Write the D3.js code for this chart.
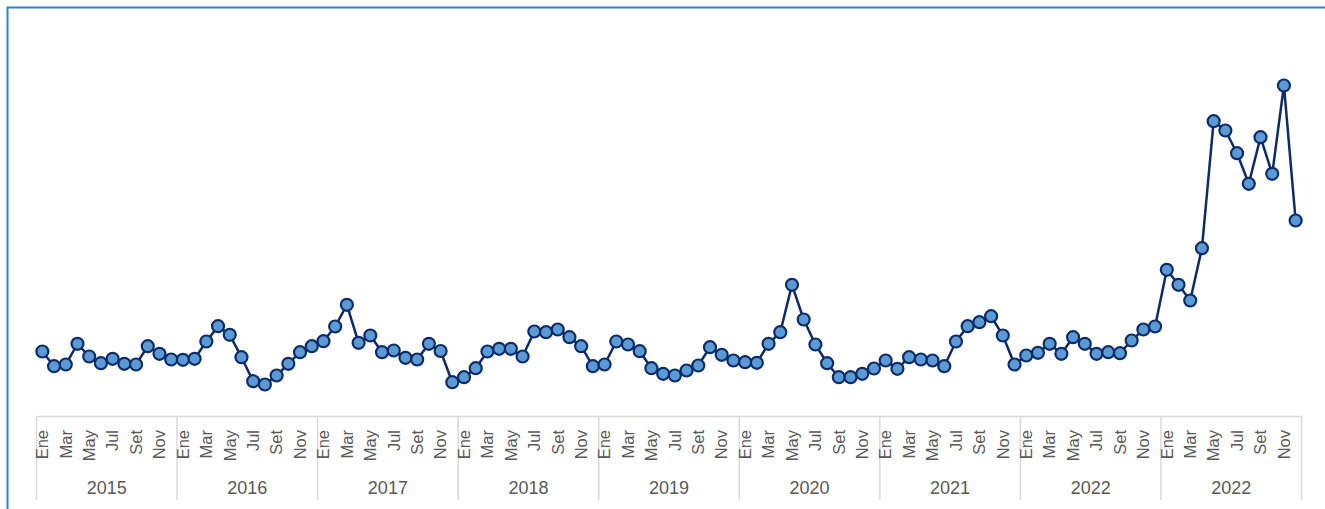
<!DOCTYPE html>
<html>
<head>
<meta charset="utf-8">
<script src="https://cdn.jsdelivr.net/npm/d3@7"></script>
<style>
  html, body { margin: 0; padding: 0; background: #fff; overflow: hidden; }
  text { font-family: "Liberation Sans", Arial, sans-serif; fill: #595959; }
</style>
</head>
<body>
<div id="chart"></div>
<script>
// Year groups (the reference labels the last two groups both as 2022)
let years = ["2015", "2016", "2017", "2018", "2019", "2020", "2021", "2022", "2022"];
let months = ["Ene", "Feb", "Mar", "Abr", "May", "Jun", "Jul", "Ago", "Set", "Oct", "Nov", "Dic"];

// Monthly values, one array per year group (no y axis shown)
let v2015 = [65, 50.3, 52, 72.7, 60, 53.3, 57.7, 52.7, 52, 70.3, 62.7, 57];
let v2016 = [56.7, 57.7, 75, 90.3, 81.7, 59.3, 35.3, 32, 41, 52.7, 64.3, 70.3];
let v2017 = [75.3, 90, 111.7, 73.7, 81, 64.3, 66, 58.7, 57, 72.7, 65.5, 34.3];
let v2018 = [39.3, 48.3, 65, 67.7, 67.7, 60, 85, 84.3, 87, 79.3, 70.3, 50.3];
let v2019 = [52, 75, 72, 65.3, 48.3, 42.7, 41, 46, 51, 69.3, 61.7, 56];
let v2020 = [54.3, 53.7, 72.7, 84.3, 131.7, 97, 72, 53.3, 39.3, 39.3, 42.7, 48];
let v2021 = [56, 47.7, 59.3, 57, 56, 50.3, 75, 90.3, 94.3, 100.3, 81, 52];
let v2022a = [61, 63.7, 72.7, 62.7, 79.3, 72.7, 62.7, 64.3, 63.3, 76, 87, 90];
let v2022b = [146.7, 131.7, 116, 168.3, 295.3, 286, 263.3, 232.7, 279.3, 242.7, 331, 196];

let seriesByYear = [v2015, v2016, v2017, v2018, v2019, v2020, v2021, v2022a, v2022b];

// Flatten into one list of points
let data = [];
seriesByYear.forEach(function (vals, yi) {
	vals.forEach(function (v, mi) {
		data.push({ idx: yi * 12 + mi, year: years[yi], month: months[mi], mi: mi, value: v });
	});
});

let width = 1325, height = 509;
let axisY = 416.5, left = 36.5, right = 1301.5;

let svg = d3.select("#chart")
	.append("svg")
	.attr("width", width)
	.attr("height", height);

// Chart frame (right and bottom edges fall outside the view)
svg.append("rect")
	.attr("x", 7.5)
	.attr("y", 7.5)
	.attr("width", 1340)
	.attr("height", 520)
	.attr("fill", "none")
	.attr("stroke", "#2F82CE")
	.attr("stroke-width", 2);

let x = d3.scaleBand()
	.domain(data.map(d => d.idx))
	.range([left, right]);

let xYear = d3.scaleBand()
	.domain(d3.range(years.length))
	.range([left, right]);

let y = d3.scaleLinear()
	.domain([0, 400])
	.range([axisY, 16.5]);

let cx = d => x(d.idx) + x.bandwidth() / 2;

// Category axis: base line and group separators
svg.append("line")
	.attr("x1", left).attr("x2", right)
	.attr("y1", axisY).attr("y2", axisY)
	.attr("stroke", "#D9D9D9")
	.attr("stroke-width", 1.5);

svg.selectAll(".sep")
	.data(d3.range(years.length + 1))
	.enter().append("line")
	.attr("class", "sep")
	.attr("x1", d => d < years.length ? xYear(d) : right)
	.attr("x2", d => d < years.length ? xYear(d) : right)
	.attr("y1", axisY)
	.attr("y2", 500)
	.attr("stroke", "#D9D9D9")
	.attr("stroke-width", 1.5);

// Month labels, every second month, rotated
svg.selectAll(".mlab")
	.data(data.filter(d => d.mi % 2 === 0))
	.enter().append("text")
	.attr("class", "mlab")
	.attr("transform", d => "translate(" + cx(d) + "," + 430 + ") rotate(-90)")
	.attr("dy", "0.35em")
	.attr("text-anchor", "end")
	.style("font-size", "16.5px")
	.text(d => d.month);

// Year labels
svg.selectAll(".ylab")
	.data(years)
	.enter().append("text")
	.attr("class", "ylab")
	.attr("x", (d, i) => xYear(i) + xYear.bandwidth() / 2)
	.attr("y", 494)
	.attr("text-anchor", "middle")
	.style("font-size", "18px")
	.text(d => d);

// The line
let line = d3.line()
	.x(cx)
	.y(d => y(d.value));

svg.append("path")
	.datum(data)
	.attr("d", line)
	.attr("fill", "none")
	.attr("stroke", "#0C2B68")
	.attr("stroke-width", 2.5)
	.attr("stroke-linejoin", "round");

// Markers
svg.selectAll(".dot")
	.data(data)
	.enter().append("circle")
	.attr("class", "dot")
	.attr("cx", cx)
	.attr("cy", d => y(d.value))
	.attr("r", 6)
	.attr("fill", "#5B9BD5")
	.attr("stroke", "#0C2B68")
	.attr("stroke-width", 2.2);
</script>
</body>
</html>
